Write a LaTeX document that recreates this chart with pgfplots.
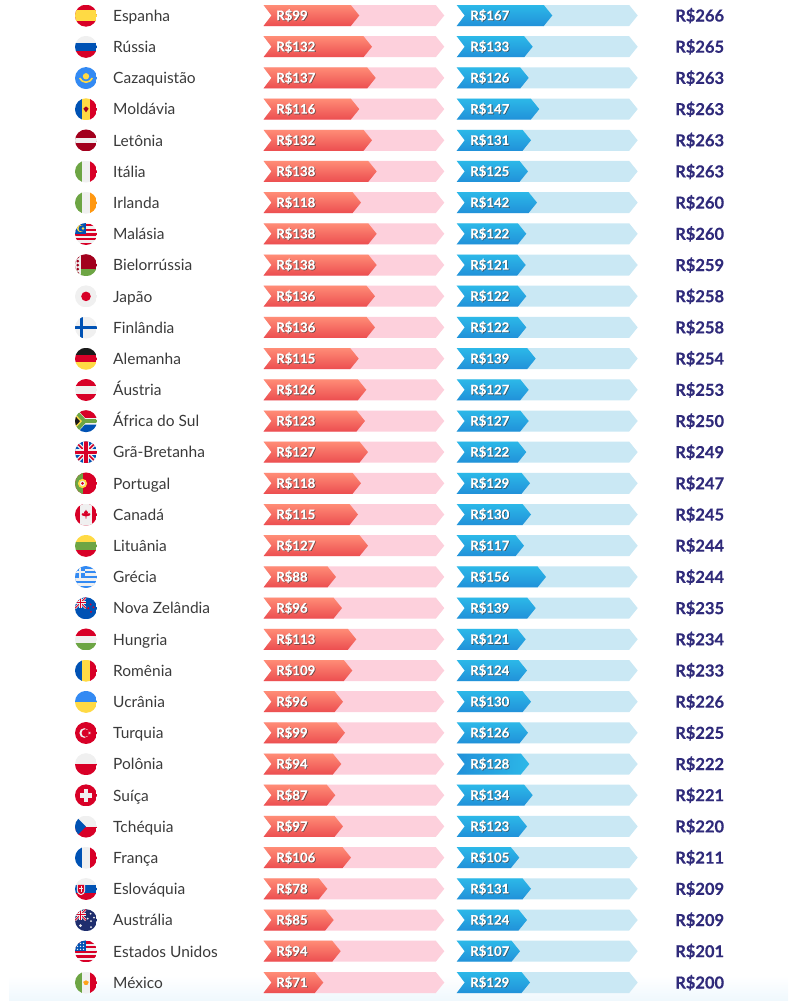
\documentclass[border=0pt]{standalone}
\usepackage{fontspec}
\usepackage{pgfplots}
\pgfplotsset{compat=1.18}
\setmainfont{Lato}
\newfontfamily\totf[BoldFeatures={FakeBold=0.45}]{Lato}
\newfontfamily\valf[BoldFeatures={FakeBold=0.3}]{Lato}
\definecolor{fR}{HTML}{D80027}\definecolor{fG}{HTML}{6DA544}\definecolor{fB}{HTML}{0052B4}
\definecolor{fW}{HTML}{F0F0F0}\definecolor{fY}{HTML}{FFDA44}\definecolor{fD}{HTML}{A2001D}
\definecolor{fO}{HTML}{FF9811}\definecolor{fL}{HTML}{338AF3}\definecolor{fK}{HTML}{1A1A1A}
\definecolor{fN}{HTML}{1F2E6E}
\definecolor{pinkbg}{HTML}{FDD0DC}\definecolor{bluebg}{HTML}{CAE8F4}
\definecolor{redT}{HTML}{FF8C76}\definecolor{redB}{HTML}{EC4E50}
\definecolor{bluT}{HTML}{2CB8E8}\definecolor{bluB}{HTML}{2191D9}
\definecolor{totc}{HTML}{2F2A7A}\definecolor{namec}{HTML}{3A3A3A}\definecolor{softb}{HTML}{EFF8FD}
\tikzset{bluebar/.style={top color=bluT,bottom color=bluB},
 bluebarH/.style={left color=bluB,right color=bluT},
 redbar/.style={top color=redT,bottom color=redB}}
\newcommand\chev[5]{% start, tip, y, style
 \pgfmathsetmacro\sa{#1+8}\pgfmathsetmacro\ta{#2-8.5}\pgfmathsetmacro\ya{#3-10.5}\pgfmathsetmacro\yb{#3+10.5}
 \addplot[draw=none,forget plot,#4] coordinates {(#1,\ya)(\ta,\ya)(#2,#3)(\ta,\yb)(#1,\yb)(\sa,#3)} --cycle;}
\newcommand\val[3]{%
 \node[anchor=base west,inner sep=0pt,text=black!75,opacity=.75,font=\valf\fontsize{13.2}{14}\selectfont\bfseries] at (axis cs:#1+0.8,{#2+5.2}) {R\$#3};
 \node[anchor=base west,inner sep=0pt,text=white,font=\valf\fontsize{13.2}{14}\selectfont\bfseries] at (axis cs:#1,{#2+4.6}) {R\$#3};}
\newcommand\row[8][bluebar]{%
 \chev{263.5}{444.3}{#2}{fill=pinkbg}{}
 \chev{263.5}{#5}{#2}{redbar}{}
 \chev{456.7}{637.7}{#2}{fill=bluebg}{}
 \chev{456.7}{#7}{#2}{#1}{}
 \node[anchor=base west,inner sep=0pt,text=namec,font=\fontsize{15.5}{16}\selectfont] at (axis cs:113,{#2+5.8}) {#3};
 \val{276}{#2}{#4}
 \val{470}{#2}{#6}
 \node[anchor=base west,inner sep=0pt,text=totc,font=\totf\fontsize{16.5}{17}\selectfont\bfseries] at (axis cs:675,{#2+6}) {R\$#8};}
% flags
\newcommand\fl[2]{\begin{scope}[x=1pt,y=1pt,shift={(86pt,{(1001-#1-0.2)*1pt})}]\clip (0,0) circle (11); #2 \end{scope}}
\newcommand\hb[3]{\fill[#1](-11,3.7) rectangle (11,11);\fill[#2](-11,-3.7) rectangle (11,3.7);\fill[#3](-11,-11) rectangle (11,-3.7);}
\newcommand\vb[3]{\fill[#1](-11,-11) rectangle (-3.7,11);\fill[#2](-3.7,-11) rectangle (3.7,11);\fill[#3](3.7,-11) rectangle (11,11);}
\newcommand\ukfull{\fill[fB](-11,-11) rectangle (11,11);
 \draw[fW,line width=4](-11,-11)--(11,11)(-11,11)--(11,-11);
 \draw[fR,line width=1.6](-11,-11)--(11,11)(-11,11)--(11,-11);
 \fill[fW](-2.8,-11) rectangle (2.8,11);\fill[fW](-11,-2.8) rectangle (11,2.8);
 \fill[fR](-1.6,-11) rectangle (1.6,11);\fill[fR](-11,-1.6) rectangle (11,1.6);}
\newcommand\ukcant[1]{\begin{scope}\clip(-11,0) rectangle (0,11);\fill[#1](-11,0) rectangle (0,11);
 \draw[fW,line width=2.4](-11,0)--(0,11)(-11,11)--(0,0);\draw[fR,line width=.9](-11,0)--(0,11)(-11,11)--(0,0);
 \fill[fW](-7,0) rectangle (-4,11);\fill[fW](-11,4) rectangle (0,7);\fill[fR](-6.2,0) rectangle (-4.8,11);\fill[fR](-11,4.8) rectangle (0,6.2);\end{scope}}
\begin{document}
\begin{tikzpicture}[x=1pt,y=1pt]
\useasboundingbox (0,0) rectangle (788,1001);
\begin{axis}[at={(0pt,0pt)},anchor=south west,scale only axis,width=788pt,height=1001pt,
 xmin=0,xmax=788,ymin=0,ymax=1001,y dir=reverse,hide axis,clip=true,no markers]
\addplot[draw=none,forget plot,top color=white,bottom color=softb] coordinates {(9,976)(788,976)(788,1001)(9,1001)} --cycle;
\row{15.5}{Espanha}{99}{359.3}{167}{552.3}{266}
\row{46.7}{Rússia}{132}{372}{133}{532.7}{265}
\row{77.9}{Cazaquistão}{137}{375.7}{126}{528.7}{263}
\row{109.1}{Moldávia}{116}{359.3}{147}{539.3}{263}
\row{140.3}{Letônia}{132}{372}{131}{531}{263}
\row{171.4}{Itália}{138}{376.7}{125}{528}{263}
\row{202.6}{Irlanda}{118}{361}{142}{537}{260}
\row{233.8}{Malásia}{138}{376.7}{122}{526.3}{260}
\row{265.0}{Bielorrússia}{138}{376.7}{121}{525.7}{259}
\row{296.2}{Japão}{136}{375}{122}{526.3}{258}
\row{327.4}{Finlândia}{136}{375}{122}{526.3}{258}
\row{358.6}{Alemanha}{115}{358.7}{139}{535.7}{254}
\row{389.8}{Áustria}{126}{366.3}{127}{528.7}{253}
\row{421.0}{África do Sul}{123}{365}{127}{528.7}{250}
\row{452.1}{Grã-Bretanha}{127}{368}{122}{526.3}{249}
\row{483.3}{Portugal}{118}{361}{129}{530}{247}
\row{514.5}{Canadá}{115}{358}{130}{531}{245}
\row{545.7}{Lituânia}{127}{368}{117}{524}{244}
\row{576.9}{Grécia}{88}{336}{156}{546}{244}
\row{608.1}{Nova Zelândia}{96}{342}{139}{535.7}{235}
\row{639.3}{Hungria}{113}{356.3}{121}{525.7}{234}
\row{670.5}{Romênia}{109}{352.3}{124}{527}{233}
\row{701.7}{Ucrânia}{96}{343}{130}{531}{226}
\row{732.8}{Turquia}{99}{345}{126}{528}{225}
\row[bluebarH]{764.0}{Polônia}{94}{341.3}{128}{529.3}{222}
\row{795.2}{Suíça}{87}{335.3}{134}{532.7}{221}
\row{826.4}{Tchéquia}{97}{343}{123}{527}{220}
\row{857.6}{França}{106}{351}{105}{519.3}{211}
\row{888.8}{Eslováquia}{78}{327.3}{131}{531}{209}
\row{920.0}{Austrália}{85}{333.7}{124}{527}{209}
\row{951.2}{Estados Unidos}{94}{340.7}{107}{520}{201}
\row{982.5}{México}{71}{323.3}{129}{530}{200}
\end{axis}
\fl{15.5}{\fill[fR](-11,-11) rectangle (11,11);\fill[fY](-11,-5.5) rectangle (11,5.5);}
\fl{46.7}{\hb{fW}{fB}{fR}}
\fl{77.9}{\fill[fL](-11,-11) rectangle (11,11);\fill[fY](0,1.8) circle (3.2);\draw[fY,line width=1.6](-6.5,0)..controls(-3,-5.5) and (3,-5.5)..(6.5,0);}
\fl{109.1}{\vb{fB}{fY}{fR}\fill[fD](0,3)--(2.6,0.5)--(0,-3)--(-2.6,0.5)--cycle;}
\fl{140.3}{\fill[fD](-11,-11) rectangle (11,11);\fill[fW](-11,-2.4) rectangle (11,2.4);}
\fl{171.4}{\vb{fG}{fW}{fR}}
\fl{202.6}{\vb{fG}{fW}{fO}}
\fl{233.8}{\fill[fW](-11,-11) rectangle (11,11);\foreach \y in {7.8,3.1,-1.6,-6.3,-11}{\fill[fR](-11,\y) rectangle (11,\y+1.6+0.6);}\fill[fB](-11,0) rectangle (0,11);\fill[fY](-5.5,5.5) circle (3.6);\fill[fB](-4.5,5.5) circle (3);\fill[fY](-3,5.5) circle (1.3);}
\fl{265.0}{\fill[fD](-11,-4) rectangle (11,11);\fill[fG](-11,-11) rectangle (11,-4);\fill[fW](-11,-11) rectangle (-5.5,11);\foreach \y in {-8,-4,0,4,8}{\fill[fD](-8.2,\y+1.5)--(-6.7,\y)--(-8.2,\y-1.5)--(-9.7,\y)--cycle;}}
\fl{296.2}{\fill[fW](-11,-11) rectangle (11,11);\fill[fR](0,0) circle (4.8);}
\fl{327.4}{\fill[fW](-11,-11) rectangle (11,11);\fill[fB](-6,-11) rectangle (-2.6,11);\fill[fB](-11,-1.6) rectangle (11,1.6);}
\fl{358.6}{\hb{fK}{fR}{fY}}
\fl{389.8}{\hb{fR}{fW}{fR}}
\fl{421.0}{\fill[fW](-11,-11) rectangle (11,11);\fill[fR](-8,11)--(11,11)--(11,3.4)--(-1,3.4)--cycle;\fill[fB](-8,-11)--(11,-11)--(11,-3.4)--(-1,-3.4)--cycle;
 \fill[fG](-2.5,-2.3) rectangle (11,2.3);\draw[fG,line width=4.6](-11,10)--(-2,0)--(-11,-10);
 \fill[fY](-11,7.4)--(-4,0)--(-11,-7.4)--cycle;\fill[fK](-11,5.3)--(-6,0)--(-11,-5.3)--cycle;}
\fl{452.1}{\ukfull}
\fl{483.3}{\fill[fR](-11,-11) rectangle (11,11);\fill[fG](-11,-11) rectangle (-3.5,11);\fill[fY](-3.5,0) circle (4.6);\fill[fW](-3.5,0) circle (2.7);\fill[fR](-3.5,0) circle (1.5);}
\fl{514.5}{\fill[fR](-11,-11) rectangle (11,11);\fill[fW](-5.7,-11) rectangle (5.7,11);\fill[fR](0,5)--(1.2,2.8)--(2,3.2)--(1.6,.6)--(3,1.8)--(4.4,.6)--(3.6,-.8)--(.4,-1.6)--(.4,-4)--(-.4,-4)--(-.4,-1.6)--(-3.6,-.8)--(-4.4,.6)--(-3,1.8)--(-1.6,.6)--(-2,3.2)--(-1.2,2.8)--cycle;}
\fl{545.7}{\hb{fY}{fG}{fR}}
\fl{576.9}{\fill[fL](-11,-11) rectangle (11,11);\foreach \y in {6.1,1.2,-3.7,-8.6}{\fill[fW](-11,\y) rectangle (11,\y+2.45);}\fill[fL](-11,-1.25) rectangle (-1,11);\fill[fW](-7,-1.25) rectangle (-4.8,11);\fill[fW](-11,3.6) rectangle (-1,5.8);}
\fl{608.1}{\fill[fB](-11,-11) rectangle (11,11);\ukcant{fB}\foreach \p in {(4.6,3.8),(7.4,1),(2.2,0),(5,-3.6)}{\fill[fR]\p circle (1.1);}}
\fl{639.3}{\hb{fR}{fW}{fG}}
\fl{670.5}{\vb{fB}{fY}{fR}}
\fl{701.7}{\fill[fL](-11,0) rectangle (11,11);\fill[fY](-11,-11) rectangle (11,0);}
\fl{732.8}{\fill[fR](-11,-11) rectangle (11,11);\fill[fW](-1.8,0) circle (4.8);\fill[fR](-.6,0) circle (3.8);\fill[fW](5.2,0)--(2.4,.9)--(4.1,-1.5)--(4.1,1.5)--(2.4,-.9)--cycle;}
\fl{764.0}{\fill[fW](-11,0) rectangle (11,11);\fill[fR](-11,-11) rectangle (11,0);}
\fl{795.2}{\fill[fR](-11,-11) rectangle (11,11);\fill[fW](-2.3,-6.3) rectangle (2.3,6.3);\fill[fW](-6.3,-2.3) rectangle (6.3,2.3);}
\fl{826.4}{\fill[fW](-11,0) rectangle (11,11);\fill[fR](-11,-11) rectangle (11,0);\fill[fB](-11,11)--(0,0)--(-11,-11)--cycle;}
\fl{857.6}{\vb{fB}{fW}{fR}}
\fl{888.8}{\hb{fW}{fB}{fR}\fill[fW](-9.2,5)--(-.8,5)--(-.8,-1.5)..controls(-1.5,-4.5)..(-5,-6.2)..controls(-8.5,-4.5)..(-9.2,-1.5)--cycle;\fill[fR](-8.2,4)--(-1.8,4)--(-1.8,-1.3)..controls(-2.5,-3.8)..(-5,-5)..controls(-7.5,-3.8)..(-8.2,-1.3)--cycle;\fill[fW](-5.5,-3) rectangle (-4.5,3);\fill[fW](-7,.5) rectangle (-3,1.4);}
\fl{920.0}{\fill[fN](-11,-11) rectangle (11,11);\ukcant{fN}\fill[fW](-5.5,-5.5) circle (1.5);\foreach \p in {(4.6,6.5),(8,2.5),(1.7,1.5),(5,-1),(5,-7)}{\fill[fW]\p circle (1);}}
\fl{951.2}{\fill[fW](-11,-11) rectangle (11,11);\foreach \y in {-11,-6.3,-1.6,3.1,7.8}{\fill[fR](-11,\y) rectangle (11,\y+2.3);}\fill[fB](-11,0) rectangle (0,11);\foreach \x in {-8.5,-5.5,-2.5}{\foreach \y in {2,5,8}{\fill[fW](\x,\y) circle (.8);}}}
\fl{982.5}{\vb{fG}{fW}{fR}\fill[fO!85!fY](0,2.4)--(2.8,.8)--(1.4,-2.2)--(-1.4,-2.2)--(-2.8,.8)--cycle;}
\end{tikzpicture}
\end{document}
